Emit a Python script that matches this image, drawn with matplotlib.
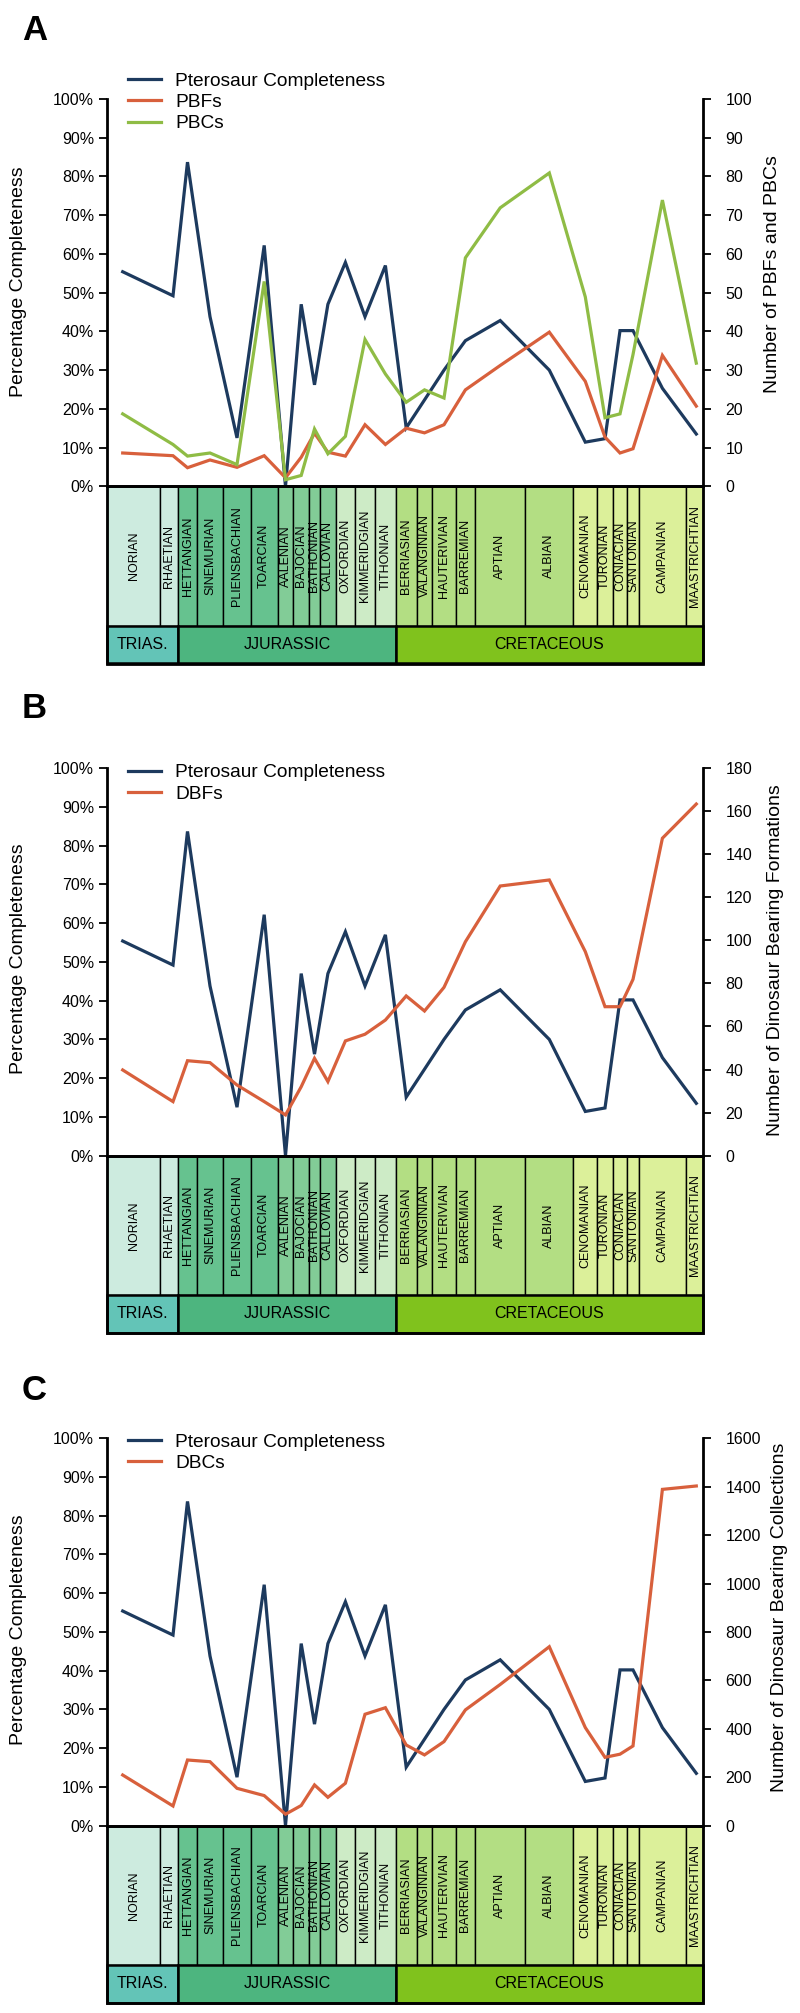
import matplotlib
matplotlib.use("Agg")
import matplotlib.pyplot as plt
from matplotlib.patches import Rectangle
from matplotlib.lines import Line2D
from matplotlib.ticker import FuncFormatter

plt.rcParams['font.family'] = ['Liberation Sans', 'DejaVu Sans']

# ---------------- data ----------------
stages = ["NORIAN", "RHAETIAN", "HETTANGIAN", "SINEMURIAN", "PLIENSBACHIAN", "TOARCIAN",
          "AALENIAN", "BAJOCIAN", "BATHONIAN", "CALLOVIAN", "OXFORDIAN", "KIMMERIDGIAN",
          "TITHONIAN", "BERRIASIAN", "VALANGINIAN", "HAUTERIVIAN", "BARREMIAN", "APTIAN",
          "ALBIAN", "CENOMANIAN", "TURONIAN", "CONIACIAN", "SANTONIAN", "CAMPANIAN",
          "MAASTRICHTIAN"]
stage_edges = [0.0, 52.7, 71.0, 89.4, 116.0, 143.4, 170.4, 186.0, 201.7, 212.7, 228.4,
               247.7, 267.7, 288.4, 309.4, 325.0, 348.4, 367.7, 418.0, 466.0, 490.0,
               505.4, 520.0, 531.4, 578.7, 596.0]
stage_colors = ["#cdebdf", "#cdebdf",
                "#66c28f", "#66c28f", "#66c28f", "#66c28f",
                "#82cc97", "#82cc97", "#82cc97", "#82cc97",
                "#cdebc6", "#cdebc6", "#cdebc6",
                "#b3de83", "#b3de83", "#b3de83", "#b3de83", "#b3de83", "#b3de83",
                "#dcf09a", "#dcf09a", "#dcf09a", "#dcf09a", "#dcf09a", "#dcf09a"]
periods = ["TRIAS.", "JJURASSIC", "CRETACEOUS"]
period_edges = [0.0, 71.0, 288.4, 596.0]
period_colors = ["#63c4b7", "#4db57f", "#80c21d"]

point_x = [15.4, 65.7, 80.2, 102.7, 129.7, 156.9, 178.2, 193.9, 207.2, 220.6, 238.1,
           257.7, 278.1, 298.9, 317.2, 336.7, 358.1, 392.9, 442.0, 478.0, 497.7,
           512.7, 525.7, 555.1, 589.0]

pterosaur_completeness = [55.4, 49.2, 83.7, 43.8, 12.5, 62.2, 0.0, 47.0, 26.2, 47.0,
                          57.8, 43.8, 57.0, 15.1, 22.3, 30.0, 37.6, 42.8, 30.0, 11.4,
                          12.3, 40.2, 40.2, 25.3, 13.5]
pbfs = [8.6, 7.9, 4.8, 6.8, 4.9, 7.9, 2.2, 7.5, 13.7, 8.8, 7.8, 15.9, 10.8, 15.0, 13.8,
        15.9, 24.9, 31.2, 39.8, 27.1, 12.7, 8.6, 9.7, 33.8, 20.7]
pbcs = [18.7, 10.8, 7.8, 8.6, 5.6, 52.9, 1.7, 2.8, 14.8, 8.4, 12.9, 37.9, 29.0, 21.7,
        24.9, 22.8, 59.0, 71.9, 80.9, 48.9, 17.7, 18.7, 34.0, 73.9, 31.8]
dbfs = [39.8, 25.1, 44.1, 43.2, 32.8, 25.1, 18.9, 32.0, 45.2, 34.4, 53.3, 56.4, 63.0,
        74.2, 67.2, 78.2, 99.4, 125.3, 128.1, 94.8, 69.2, 69.2, 81.9, 147.5, 163.4]
dbcs = [209, 81, 271, 264, 154, 124, 47, 83, 168, 117, 175, 460, 487, 333, 292, 347,
        478, 583, 739, 405, 282, 295, 329, 1389, 1403]

pct_ticks = list(range(0, 101, 10))
ticks_a = list(range(0, 101, 10))
ticks_b = list(range(0, 181, 20))
ticks_c = list(range(0, 1601, 200))

BLUE = "#1d3a5e"
RED = "#d8603c"
GREEN = "#8fbc45"

W, H = 800, 2013
fig = plt.figure(figsize=(W / 100, H / 100), dpi=100)

X0, XW = 107.3, 596.0
AX_H = 387.3
STAGE_H = 139.5
PER_H = 37.7


def fy(y):
    return 1 - y / H


def draw_panel(top, letter, letter_y, series, ylim, rticks, rlabel,
               leg_y, lab_left_y, lab_right_y, lab_right_x):
    ax = fig.add_axes([X0 / W, fy(top + AX_H), XW / W, AX_H / H])
    ax.set_xlim(stage_edges[0], stage_edges[-1])
    ax.set_ylim(0, 100)
    for s in ["top", "bottom"]:
        ax.spines[s].set_visible(False)
    ax.spines["right"].set_visible(False)
    ax.spines["left"].set_linewidth(2.0)
    ax.set_xticks([])
    ax.set_yticks(pct_ticks)
    ax.yaxis.set_major_formatter(FuncFormatter(lambda v, p: f"{int(v)}%"))
    ax.tick_params(axis="y", length=6, width=1.3, pad=3.5, labelsize=11.5)
    ax.patch.set_alpha(0)

    ax2 = ax.twinx()
    ax2.set_xlim(stage_edges[0], stage_edges[-1])
    ax2.set_ylim(*ylim)
    for s in ["top", "bottom", "left"]:
        ax2.spines[s].set_visible(False)
    ax2.spines["right"].set_linewidth(2.0)
    ax2.set_yticks(rticks)
    ax2.tick_params(axis="y", length=6, width=1.3, pad=10, labelsize=11.5)

    l0, = ax.plot(point_x, pterosaur_completeness, color=BLUE, lw=2.3,
                  solid_joinstyle="miter", clip_on=False, zorder=3)
    handles = [l0]
    labels = ["Pterosaur Completeness"]
    for vals, col, lab in series:
        ln, = ax2.plot(point_x, vals, color=col, lw=2.3, solid_joinstyle="miter",
                       clip_on=False, zorder=3)
        handles.append(ln)
        labels.append(lab)

    ax2.legend(handles, labels, loc="upper left",
               bbox_to_anchor=(128 / W, fy(leg_y - 11)), bbox_transform=fig.transFigure,
               frameon=False, borderpad=0, borderaxespad=0, handlelength=1.72,
               handletextpad=0.73, labelspacing=0.2, fontsize=13.8)

    fig.text(19 / W, fy(lab_left_y), "Percentage Completeness", rotation=90,
             ha="center", va="center", fontsize=14)
    fig.text(lab_right_x / W, fy(lab_right_y), rlabel, rotation=90,
             ha="center", va="center", fontsize=14)
    fig.text(22 / W, fy(letter_y), letter, ha="left", va="center",
             fontsize=25, fontweight="bold")

    # timescale
    ts = fig.add_axes([X0 / W, fy(top + AX_H + STAGE_H + PER_H), XW / W,
                       (STAGE_H + PER_H) / H])
    ts.set_xlim(stage_edges[0], stage_edges[-1])
    ts.set_ylim(STAGE_H + PER_H, 0)
    ts.axis("off")
    for i, name in enumerate(stages):
        x0, x1 = stage_edges[i], stage_edges[i + 1]
        ts.add_patch(Rectangle((x0, 0), x1 - x0, STAGE_H, facecolor=stage_colors[i],
                               edgecolor="black", lw=1.0, clip_on=False))
        ts.text((x0 + x1) / 2, STAGE_H / 2, name, rotation=90, ha="center",
                va="center", fontsize=9)
    for i, name in enumerate(periods):
        x0, x1 = period_edges[i], period_edges[i + 1]
        ts.add_patch(Rectangle((x0, STAGE_H), x1 - x0, PER_H, facecolor=period_colors[i],
                               edgecolor="black", lw=1.8, clip_on=False))
        ts.text((x0 + x1) / 2, STAGE_H + PER_H / 2, name, ha="center", va="center",
                fontsize=11.5)
    ts.add_patch(Rectangle((stage_edges[0], 0), stage_edges[-1] - stage_edges[0],
                           STAGE_H + PER_H, facecolor="none", edgecolor="black",
                           lw=2.0, clip_on=False, zorder=5))
    ts.plot([stage_edges[0], stage_edges[-1]], [0, 0], color="black", lw=2.0,
            clip_on=False, zorder=6)


draw_panel(99.0, "A", 30, [(pbfs, RED, "PBFs"), (pbcs, GREEN, "PBCs")], (0, 100),
           ticks_a, "Number of PBFs and PBCs", 83.3, 282, 274.5, 772.5)
draw_panel(768.3, "B", 708, [(dbfs, RED, "DBFs")], (0, 180),
           ticks_b, "Number of Dinosaur Bearing Formations", 775, 959, 960, 775)
draw_panel(1438.3, "C", 1390, [(dbcs, RED, "DBCs")], (0, 1600),
           ticks_c, "Number of Dinosaur Bearing Collections", 1444.3, 1630, 1617, 779)

fig.savefig("out.png", dpi=100)
